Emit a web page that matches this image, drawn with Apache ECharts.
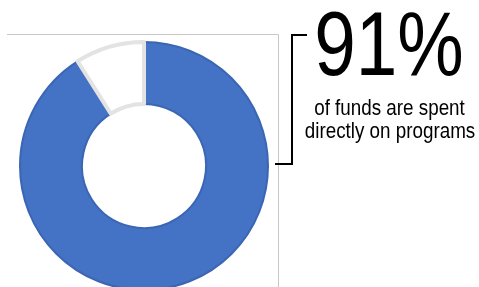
<!DOCTYPE html>
<html>
<head>
<meta charset="utf-8">
<style>html,body{margin:0;padding:0;background:#fff;}#c{width:479px;height:287px;}</style>
<script src="https://cdn.jsdelivr.net/npm/echarts@6/dist/echarts.min.js"></script>
</head>
<body>
<div id="c"></div>
<script>
var categories = ['Programs', 'Other'];
var values = [91, 9];
var headline = '91%';
var captionLines = ['of funds are spent', 'directly on programs'];

var chart = echarts.init(document.getElementById('c'), null, {renderer: 'canvas'});
var font = '"Liberation Sans", Arial, sans-serif';
chart.setOption({
  animation: false,
  backgroundColor: '#ffffff',
  series: [{
    type: 'pie',
    center: [144, 166],
    radius: [62, 124],
    startAngle: 90,
    clockwise: true,
    label: {show: false},
    labelLine: {show: false},
    emphasis: {disabled: true},
    data: categories.map(function (c, i) {
      return {
        name: c,
        value: values[i],
        itemStyle: i === 0
          ? {color: '#4472C4', borderColor: '#3B66B3', borderWidth: 2}
          : {color: '#ffffff', borderColor: '#E3E3E3', borderWidth: 4}
      };
    })
  }],
  graphic: [
    {type: 'line', shape: {x1: 7, y1: 34.5, x2: 278.5, y2: 34.5}, style: {stroke: '#C8C8C8', lineWidth: 1}},
    {type: 'line', shape: {x1: 278.5, y1: 34.5, x2: 278.5, y2: 287}, style: {stroke: '#C8C8C8', lineWidth: 1}},
    {type: 'polyline', shape: {points: [[307, 35], [292, 35], [292, 164], [275, 164]]}, style: {stroke: '#000', lineWidth: 2, fill: null}},
    {type: 'text', x: 389, y: 50, scaleX: 0.83, style: {text: headline, font: 'normal 90px ' + font, fill: '#000', align: 'center', verticalAlign: 'middle'}},
    {type: 'text', x: 389.5, y: 109, scaleX: 0.855, style: {text: captionLines[0], font: 'normal 22px ' + font, fill: '#000', align: 'center', verticalAlign: 'middle'}},
    {type: 'text', x: 390, y: 132, scaleX: 0.855, style: {text: captionLines[1], font: 'normal 22px ' + font, fill: '#000', align: 'center', verticalAlign: 'middle'}}
  ]
});
</script>
</body>
</html>
